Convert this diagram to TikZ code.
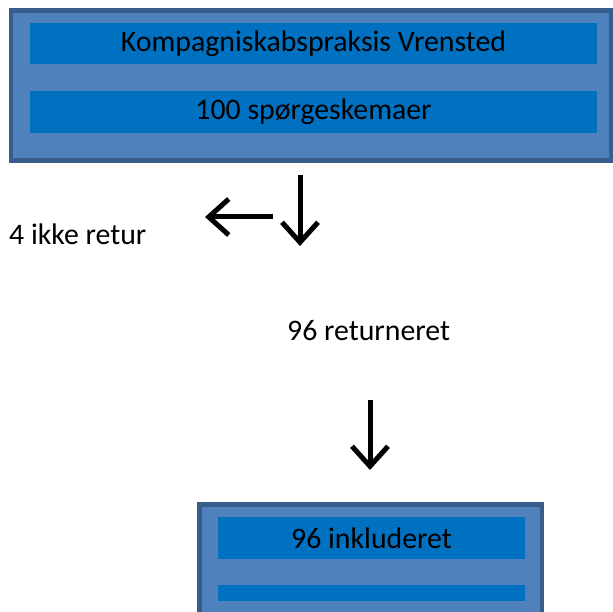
\documentclass[tikz,border=0pt]{standalone}
\usepackage{fontspec}
\setmainfont{Carlito}
\usetikzlibrary{arrows.meta}
\definecolor{boxfill}{HTML}{4F81BD}
\definecolor{boxline}{HTML}{385D8A}
\definecolor{barfill}{HTML}{0070C0}
\newcommand*{\topMid}{313.5}
\newcommand*{\botMid}{371.5}

\begin{document}
\begin{tikzpicture}[x=1pt,y=-1pt,
	outerbox/.style={draw=boxline,fill=boxfill,line width=4.5pt},
	bar/.style={fill=barfill,inner sep=0pt,font=\fontsize{29.8}{34}\selectfont},
	tekst/.style={inner sep=0pt,font=\fontsize{29.8}{34}\selectfont},
	flow/.style={line width=5pt,-{Straight Barb[length=20pt,width=36pt]}}]
	\useasboundingbox (0,0) rectangle (613,612);
	
	% outer boxes, the lower one runs off the page
	\begin{scope}
		\clip (0,0) rectangle (613,612);
		\draw[outerbox] (11,10.5) rectangle (611,160.5);
		\draw[outerbox] (199.5,504.5) rectangle (542,640);
	\end{scope}
	
	\node[bar,minimum width=567pt,minimum height=41.6pt] (praksis) at (\topMid,43.5) {Kompagniskabspraksis Vrensted};
	\node[bar,minimum width=567pt,minimum height=42pt] (skemaer) at (\topMid,111.7) {100 spørgeskemaer};
	\node[bar,minimum width=307pt,minimum height=42pt] (inkluderet) at (\botMid,538) {96 inkluderet};
	\node[bar,minimum width=307pt,minimum height=16pt] (tombar) at (\botMid,593) {};
	
	\node[tekst,anchor=base west] (ikkeretur) at (9,245) {4 ikke retur};
	\node[tekst,anchor=base west] (returneret) at (287,340) {96 returneret};
	
	\coordinate (venstreStart) at (273,217);
	\coordinate (venstreSlut) at (205,217);
	\coordinate (nedStart) at (300,175);
	\coordinate (nedSlut) at (300,246);
	\coordinate (ned2Start) at (370,400);
	\coordinate (ned2Slut) at (370,470);
	
	\draw[flow] (venstreStart) -- (venstreSlut);
	\draw[flow] (nedStart) -- (nedSlut);
	\draw[flow] (ned2Start) -- (ned2Slut);
\end{tikzpicture}
\end{document}
